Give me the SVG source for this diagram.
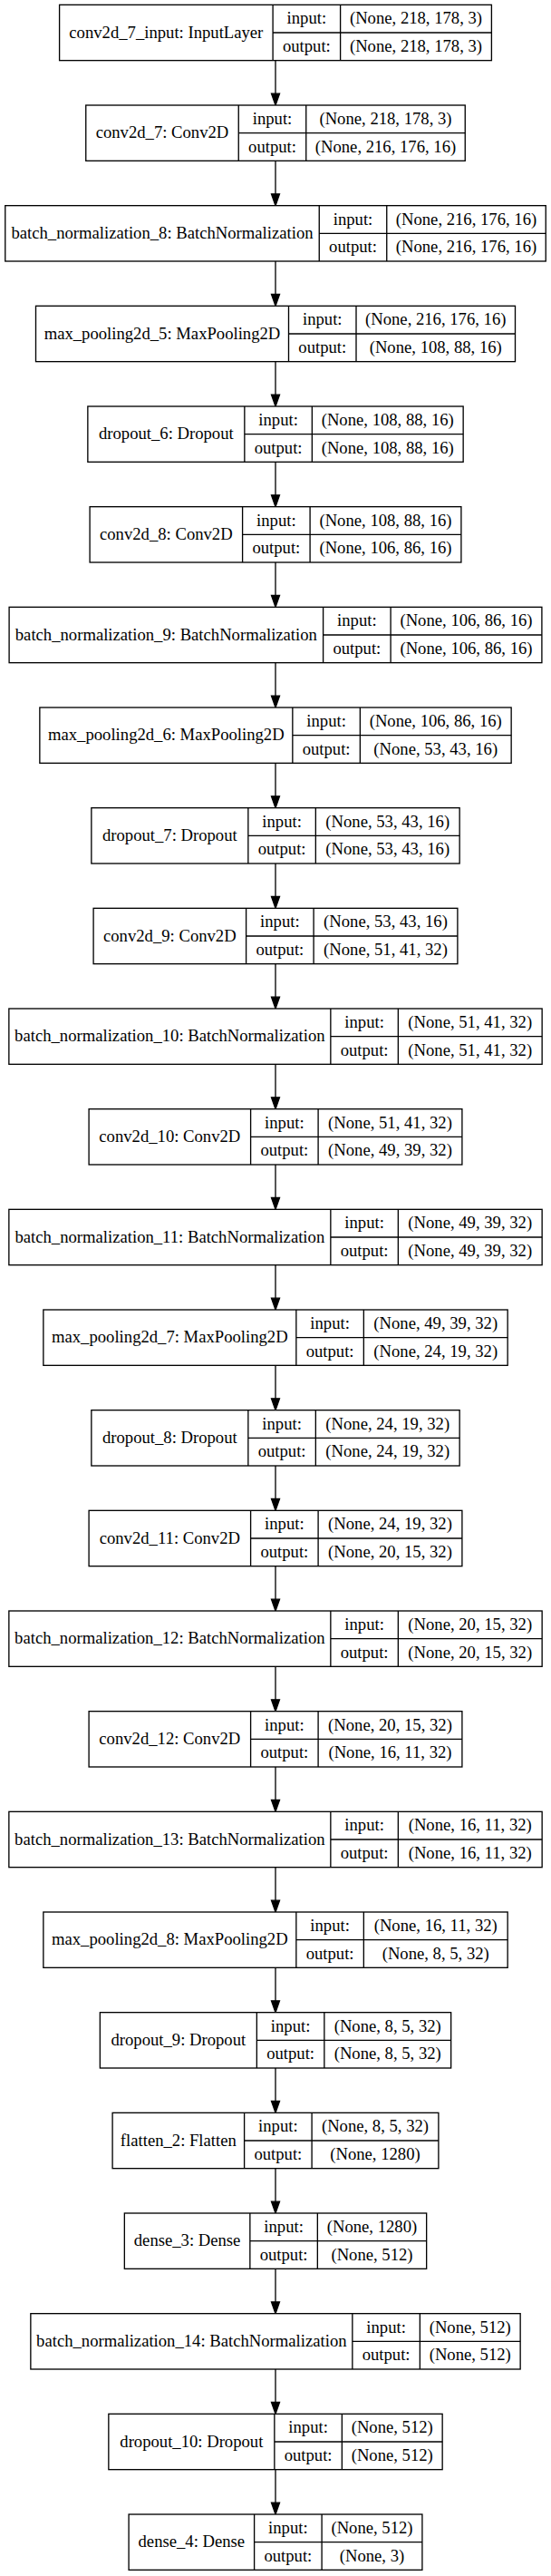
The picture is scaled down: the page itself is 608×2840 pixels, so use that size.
<svg xmlns="http://www.w3.org/2000/svg" width="608" height="2840" viewBox="0 0 608 2840">
<style>
.b{fill:#fff;stroke:#000;stroke-width:1.33}
.s{stroke:#000;stroke-width:1.33;fill:none}
text{font-family:"Liberation Serif","Times New Roman",serif;font-size:18.67px;text-anchor:middle;fill:#000}
.e{stroke:#000;stroke-width:1.33;fill:none;marker-end:url(#ah)}
</style>
<defs>
<marker id="ah" viewBox="0 0 14 10" refX="13.33" refY="5" markerWidth="14" markerHeight="10" markerUnits="userSpaceOnUse" orient="auto" overflow="visible">
<path d="M0.5,0.5L13.33,5L0.5,9.5Z" fill="#000" stroke="#000" stroke-width="1.33"/>
</marker>
</defs>
<rect width="608" height="2840" fill="#fff"/>
<g id="edges">
<path class="e" d="M304 66.67V116"/>
<path class="e" d="M304 177.33V226.67"/>
<path class="e" d="M304 288V337.33"/>
<path class="e" d="M304 398.67V448"/>
<path class="e" d="M304 509.33V558.67"/>
<path class="e" d="M304 620V669.33"/>
<path class="e" d="M304 730.67V780"/>
<path class="e" d="M304 841.33V890.67"/>
<path class="e" d="M304 952V1001.33"/>
<path class="e" d="M304 1062.67V1112"/>
<path class="e" d="M304 1173.33V1222.67"/>
<path class="e" d="M304 1284V1333.33"/>
<path class="e" d="M304 1394.67V1444"/>
<path class="e" d="M304 1505.33V1554.67"/>
<path class="e" d="M304 1616V1665.33"/>
<path class="e" d="M304 1726.67V1776"/>
<path class="e" d="M304 1837.33V1886.67"/>
<path class="e" d="M304 1948V1997.33"/>
<path class="e" d="M304 2058.67V2108"/>
<path class="e" d="M304 2169.33V2218.67"/>
<path class="e" d="M304 2280V2329.33"/>
<path class="e" d="M304 2390.67V2440"/>
<path class="e" d="M304 2501.33V2550.67"/>
<path class="e" d="M304 2612V2661.33"/>
<path class="e" d="M304 2722.67V2772"/>
</g>
<g id="n0" transform="translate(0,5.33)">
<rect class="b" x="65.6" y="0" width="476.8" height="61.33"/>
<path class="s" d="M301.1 0V61.33M375.6 0V61.33M301.1 30.67H542.4"/>
<text x="183.35" y="36.3">conv2d_7_input: InputLayer</text>
<text x="338.35" y="21">input:</text><text x="338.35" y="51.7">output:</text>
<text x="459" y="21">(None, 218, 178, 3)</text><text x="459" y="51.7">(None, 218, 178, 3)</text>
</g>
<g id="n1" transform="translate(0,116)">
<rect class="b" x="94.75" y="0" width="418.5" height="61.33"/>
<path class="s" d="M263.25 0V61.33M337.75 0V61.33M263.25 30.67H513.25"/>
<text x="179" y="36.3">conv2d_7: Conv2D</text>
<text x="300.5" y="21">input:</text><text x="300.5" y="51.7">output:</text>
<text x="425.5" y="21">(None, 218, 178, 3)</text><text x="425.5" y="51.7">(None, 216, 176, 16)</text>
</g>
<g id="n2" transform="translate(0,226.67)">
<rect class="b" x="5.75" y="0" width="596.5" height="61.33"/>
<path class="s" d="M352.25 0V61.33M426.75 0V61.33M352.25 30.67H602.25"/>
<text x="179" y="36.3">batch_normalization_8: BatchNormalization</text>
<text x="389.5" y="21">input:</text><text x="389.5" y="51.7">output:</text>
<text x="514.5" y="21">(None, 216, 176, 16)</text><text x="514.5" y="51.7">(None, 216, 176, 16)</text>
</g>
<g id="n3" transform="translate(0,337.33)">
<rect class="b" x="39.5" y="0" width="529" height="61.33"/>
<path class="s" d="M318.5 0V61.33M393 0V61.33M318.5 30.67H568.5"/>
<text x="179" y="36.3">max_pooling2d_5: MaxPooling2D</text>
<text x="355.75" y="21">input:</text><text x="355.75" y="51.7">output:</text>
<text x="480.75" y="21">(None, 216, 176, 16)</text><text x="480.75" y="51.7">(None, 108, 88, 16)</text>
</g>
<g id="n4" transform="translate(0,448)">
<rect class="b" x="96.85" y="0" width="414.3" height="61.33"/>
<path class="s" d="M269.85 0V61.33M344.35 0V61.33M269.85 30.67H511.15"/>
<text x="183.35" y="36.3">dropout_6: Dropout</text>
<text x="307.1" y="21">input:</text><text x="307.1" y="51.7">output:</text>
<text x="427.75" y="21">(None, 108, 88, 16)</text><text x="427.75" y="51.7">(None, 108, 88, 16)</text>
</g>
<g id="n5" transform="translate(0,558.67)">
<rect class="b" x="99.1" y="0" width="409.8" height="61.33"/>
<path class="s" d="M267.6 0V61.33M342.1 0V61.33M267.6 30.67H508.9"/>
<text x="183.35" y="36.3">conv2d_8: Conv2D</text>
<text x="304.85" y="21">input:</text><text x="304.85" y="51.7">output:</text>
<text x="425.5" y="21">(None, 108, 88, 16)</text><text x="425.5" y="51.7">(None, 106, 86, 16)</text>
</g>
<g id="n6" transform="translate(0,669.33)">
<rect class="b" x="10.1" y="0" width="587.8" height="61.33"/>
<path class="s" d="M356.6 0V61.33M431.1 0V61.33M356.6 30.67H597.9"/>
<text x="183.35" y="36.3">batch_normalization_9: BatchNormalization</text>
<text x="393.85" y="21">input:</text><text x="393.85" y="51.7">output:</text>
<text x="514.5" y="21">(None, 106, 86, 16)</text><text x="514.5" y="51.7">(None, 106, 86, 16)</text>
</g>
<g id="n7" transform="translate(0,780)">
<rect class="b" x="43.85" y="0" width="520.3" height="61.33"/>
<path class="s" d="M322.85 0V61.33M397.35 0V61.33M322.85 30.67H564.15"/>
<text x="183.35" y="36.3">max_pooling2d_6: MaxPooling2D</text>
<text x="360.1" y="21">input:</text><text x="360.1" y="51.7">output:</text>
<text x="480.75" y="21">(None, 106, 86, 16)</text><text x="480.75" y="51.7">(None, 53, 43, 16)</text>
</g>
<g id="n8" transform="translate(0,890.67)">
<rect class="b" x="100.85" y="0" width="406.3" height="61.33"/>
<path class="s" d="M273.85 0V61.33M348.35 0V61.33M273.85 30.67H507.15"/>
<text x="187.35" y="36.3">dropout_7: Dropout</text>
<text x="311.1" y="21">input:</text><text x="311.1" y="51.7">output:</text>
<text x="427.75" y="21">(None, 53, 43, 16)</text><text x="427.75" y="51.7">(None, 53, 43, 16)</text>
</g>
<g id="n9" transform="translate(0,1001.33)">
<rect class="b" x="103.1" y="0" width="401.8" height="61.33"/>
<path class="s" d="M271.6 0V61.33M346.1 0V61.33M271.6 30.67H504.9"/>
<text x="187.35" y="36.3">conv2d_9: Conv2D</text>
<text x="308.85" y="21">input:</text><text x="308.85" y="51.7">output:</text>
<text x="425.5" y="21">(None, 53, 43, 16)</text><text x="425.5" y="51.7">(None, 51, 41, 32)</text>
</g>
<g id="n10" transform="translate(0,1112)">
<rect class="b" x="9.85" y="0" width="588.3" height="61.33"/>
<path class="s" d="M364.85 0V61.33M439.35 0V61.33M364.85 30.67H598.15"/>
<text x="187.35" y="36.3">batch_normalization_10: BatchNormalization</text>
<text x="402.1" y="21">input:</text><text x="402.1" y="51.7">output:</text>
<text x="518.75" y="21">(None, 51, 41, 32)</text><text x="518.75" y="51.7">(None, 51, 41, 32)</text>
</g>
<g id="n11" transform="translate(0,1222.67)">
<rect class="b" x="98.1" y="0" width="411.8" height="61.33"/>
<path class="s" d="M276.6 0V61.33M351.1 0V61.33M276.6 30.67H509.9"/>
<text x="187.35" y="36.3">conv2d_10: Conv2D</text>
<text x="313.85" y="21">input:</text><text x="313.85" y="51.7">output:</text>
<text x="430.5" y="21">(None, 51, 41, 32)</text><text x="430.5" y="51.7">(None, 49, 39, 32)</text>
</g>
<g id="n12" transform="translate(0,1333.33)">
<rect class="b" x="9.85" y="0" width="588.3" height="61.33"/>
<path class="s" d="M364.85 0V61.33M439.35 0V61.33M364.85 30.67H598.15"/>
<text x="187.35" y="36.3">batch_normalization_11: BatchNormalization</text>
<text x="402.1" y="21">input:</text><text x="402.1" y="51.7">output:</text>
<text x="518.75" y="21">(None, 49, 39, 32)</text><text x="518.75" y="51.7">(None, 49, 39, 32)</text>
</g>
<g id="n13" transform="translate(0,1444)">
<rect class="b" x="47.85" y="0" width="512.3" height="61.33"/>
<path class="s" d="M326.85 0V61.33M401.35 0V61.33M326.85 30.67H560.15"/>
<text x="187.35" y="36.3">max_pooling2d_7: MaxPooling2D</text>
<text x="364.1" y="21">input:</text><text x="364.1" y="51.7">output:</text>
<text x="480.75" y="21">(None, 49, 39, 32)</text><text x="480.75" y="51.7">(None, 24, 19, 32)</text>
</g>
<g id="n14" transform="translate(0,1554.67)">
<rect class="b" x="100.85" y="0" width="406.3" height="61.33"/>
<path class="s" d="M273.85 0V61.33M348.35 0V61.33M273.85 30.67H507.15"/>
<text x="187.35" y="36.3">dropout_8: Dropout</text>
<text x="311.1" y="21">input:</text><text x="311.1" y="51.7">output:</text>
<text x="427.75" y="21">(None, 24, 19, 32)</text><text x="427.75" y="51.7">(None, 24, 19, 32)</text>
</g>
<g id="n15" transform="translate(0,1665.33)">
<rect class="b" x="98.1" y="0" width="411.8" height="61.33"/>
<path class="s" d="M276.6 0V61.33M351.1 0V61.33M276.6 30.67H509.9"/>
<text x="187.35" y="36.3">conv2d_11: Conv2D</text>
<text x="313.85" y="21">input:</text><text x="313.85" y="51.7">output:</text>
<text x="430.5" y="21">(None, 24, 19, 32)</text><text x="430.5" y="51.7">(None, 20, 15, 32)</text>
</g>
<g id="n16" transform="translate(0,1776)">
<rect class="b" x="9.85" y="0" width="588.3" height="61.33"/>
<path class="s" d="M364.85 0V61.33M439.35 0V61.33M364.85 30.67H598.15"/>
<text x="187.35" y="36.3">batch_normalization_12: BatchNormalization</text>
<text x="402.1" y="21">input:</text><text x="402.1" y="51.7">output:</text>
<text x="518.75" y="21">(None, 20, 15, 32)</text><text x="518.75" y="51.7">(None, 20, 15, 32)</text>
</g>
<g id="n17" transform="translate(0,1886.67)">
<rect class="b" x="98.1" y="0" width="411.8" height="61.33"/>
<path class="s" d="M276.6 0V61.33M351.1 0V61.33M276.6 30.67H509.9"/>
<text x="187.35" y="36.3">conv2d_12: Conv2D</text>
<text x="313.85" y="21">input:</text><text x="313.85" y="51.7">output:</text>
<text x="430.5" y="21">(None, 20, 15, 32)</text><text x="430.5" y="51.7">(None, 16, 11, 32)</text>
</g>
<g id="n18" transform="translate(0,1997.33)">
<rect class="b" x="9.85" y="0" width="588.3" height="61.33"/>
<path class="s" d="M364.85 0V61.33M439.35 0V61.33M364.85 30.67H598.15"/>
<text x="187.35" y="36.3">batch_normalization_13: BatchNormalization</text>
<text x="402.1" y="21">input:</text><text x="402.1" y="51.7">output:</text>
<text x="518.75" y="21">(None, 16, 11, 32)</text><text x="518.75" y="51.7">(None, 16, 11, 32)</text>
</g>
<g id="n19" transform="translate(0,2108)">
<rect class="b" x="47.85" y="0" width="512.3" height="61.33"/>
<path class="s" d="M326.85 0V61.33M401.35 0V61.33M326.85 30.67H560.15"/>
<text x="187.35" y="36.3">max_pooling2d_8: MaxPooling2D</text>
<text x="364.1" y="21">input:</text><text x="364.1" y="51.7">output:</text>
<text x="480.75" y="21">(None, 16, 11, 32)</text><text x="480.75" y="51.7">(None, 8, 5, 32)</text>
</g>
<g id="n20" transform="translate(0,2218.67)">
<rect class="b" x="110.35" y="0" width="387.3" height="61.33"/>
<path class="s" d="M283.35 0V61.33M357.85 0V61.33M283.35 30.67H497.65"/>
<text x="196.85" y="36.3">dropout_9: Dropout</text>
<text x="320.6" y="21">input:</text><text x="320.6" y="51.7">output:</text>
<text x="427.75" y="21">(None, 8, 5, 32)</text><text x="427.75" y="51.7">(None, 8, 5, 32)</text>
</g>
<g id="n21" transform="translate(0,2329.33)">
<rect class="b" x="124.1" y="0" width="359.8" height="61.33"/>
<path class="s" d="M269.6 0V61.33M344.1 0V61.33M269.6 30.67H483.9"/>
<text x="196.85" y="36.3">flatten_2: Flatten</text>
<text x="306.85" y="21">input:</text><text x="306.85" y="51.7">output:</text>
<text x="414" y="21">(None, 8, 5, 32)</text><text x="414" y="51.7">(None, 1280)</text>
</g>
<g id="n22" transform="translate(0,2440)">
<rect class="b" x="137.35" y="0" width="333.3" height="61.33"/>
<path class="s" d="M275.85 0V61.33M350.35 0V61.33M275.85 30.67H470.65"/>
<text x="206.6" y="36.3">dense_3: Dense</text>
<text x="313.1" y="21">input:</text><text x="313.1" y="51.7">output:</text>
<text x="410.5" y="21">(None, 1280)</text><text x="410.5" y="51.7">(None, 512)</text>
</g>
<g id="n23" transform="translate(0,2550.67)">
<rect class="b" x="33.85" y="0" width="540.3" height="61.33"/>
<path class="s" d="M388.85 0V61.33M463.35 0V61.33M388.85 30.67H574.15"/>
<text x="211.35" y="36.3">batch_normalization_14: BatchNormalization</text>
<text x="426.1" y="21">input:</text><text x="426.1" y="51.7">output:</text>
<text x="518.75" y="21">(None, 512)</text><text x="518.75" y="51.7">(None, 512)</text>
</g>
<g id="n24" transform="translate(0,2661.33)">
<rect class="b" x="119.85" y="0" width="368.3" height="61.33"/>
<path class="s" d="M302.85 0V61.33M377.35 0V61.33M302.85 30.67H488.15"/>
<text x="211.35" y="36.3">dropout_10: Dropout</text>
<text x="340.1" y="21">input:</text><text x="340.1" y="51.7">output:</text>
<text x="432.75" y="21">(None, 512)</text><text x="432.75" y="51.7">(None, 512)</text>
</g>
<g id="n25" transform="translate(0,2772)">
<rect class="b" x="142.1" y="0" width="323.8" height="61.33"/>
<path class="s" d="M280.6 0V61.33M355.1 0V61.33M280.6 30.67H465.9"/>
<text x="211.35" y="36.3">dense_4: Dense</text>
<text x="317.85" y="21">input:</text><text x="317.85" y="51.7">output:</text>
<text x="410.5" y="21">(None, 512)</text><text x="410.5" y="51.7">(None, 3)</text>
</g>
</svg>
